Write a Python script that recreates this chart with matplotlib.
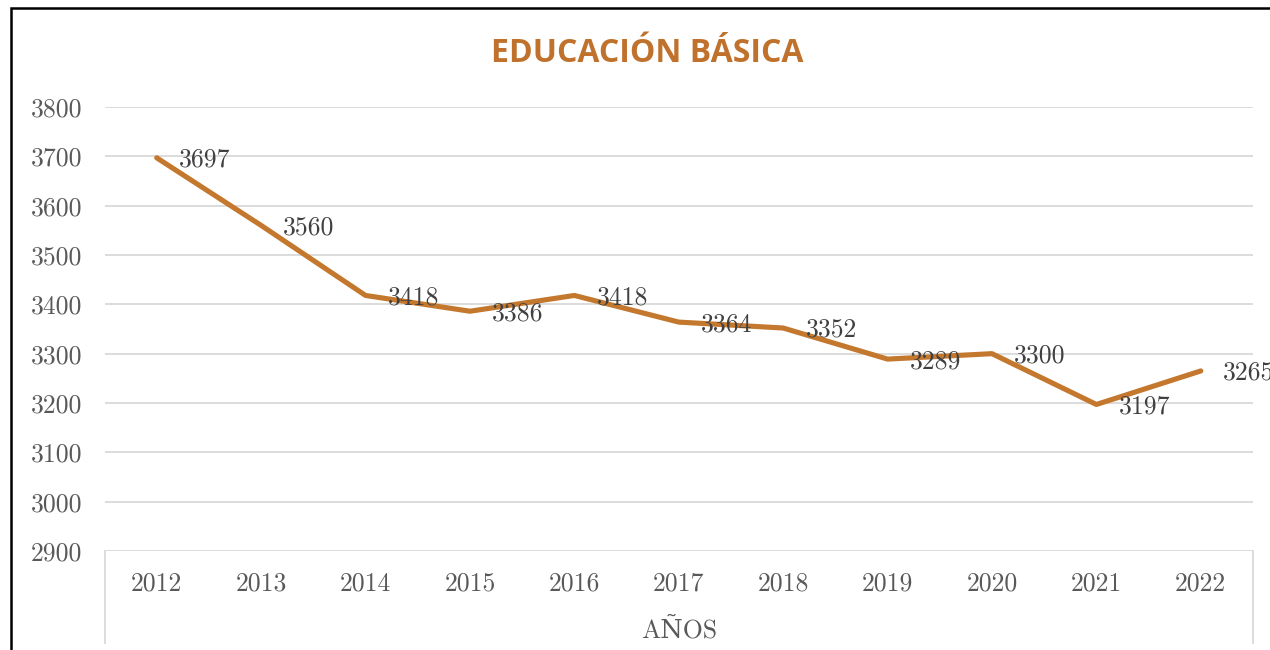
import matplotlib
matplotlib.use("Agg")
import matplotlib.pyplot as plt
from matplotlib.lines import Line2D
from matplotlib.patches import Rectangle

# ---------------------------
# Data
# ---------------------------
years = ["2012", "2013", "2014", "2015", "2016", "2017",
         "2018", "2019", "2020", "2021", "2022"]
values = [3697, 3560, 3418, 3386, 3418, 3364, 3352, 3289, 3300, 3197, 3265]
y_ticks = [2900, 3000, 3100, 3200, 3300, 3400, 3500, 3600, 3700, 3800]

title = "EDUCACIÓN BÁSICA"
x_title = "AÑOS"

line_color = "#C4782E"
title_color = "#C0722C"
grid_color = "#D9D9D9"
serif = ["cmr10", "DejaVu Serif"]
fs = 18.5

# ---------------------------
# Figure
# ---------------------------
W, H = 1270, 650
fig = plt.figure(figsize=(W / 100, H / 100), dpi=100)
ax = fig.add_axes([104.5 / W, 1 - 551 / H, (1253 - 104.5) / W, 444 / H])

x = list(range(len(years)))
ax.plot(x, values, color=line_color, lw=3.7, solid_capstyle="round",
        solid_joinstyle="round", zorder=3)

for xi, v in zip(x, values):
    ax.annotate(str(v), (xi, v), xytext=(16, -1.5), textcoords="offset points",
                ha="left", va="center", fontsize=fs, color="#404040",
                family=serif, annotation_clip=False, zorder=4)

ax.set_xlim(-0.5, len(years) - 0.5)
ax.set_ylim(2900, 3800)
ax.set_yticks(y_ticks)
ax.set_yticklabels([str(t) for t in y_ticks], family=serif, fontsize=fs,
                   color="#595959")
ax.set_xticks(x)
ax.set_xticklabels(years, family=serif, fontsize=fs, color="#595959")
ax.tick_params(axis="both", length=0)
ax.tick_params(axis="y", pad=16)
ax.tick_params(axis="x", pad=15)

ax.grid(axis="y", color=grid_color, lw=1.3)
ax.set_axisbelow(True)
for s in ax.spines.values():
    s.set_visible(False)

# category box below the plot
for xb in (0, 1):
    ax.add_line(Line2D([xb, xb], [0, -0.207], transform=ax.transAxes,
                       color=grid_color, lw=1.3, clip_on=False))

ax.text(0.5, -0.178, x_title, transform=ax.transAxes, ha="center", va="center",
        fontsize=fs, color="#595959", family=serif)

fig.text(647 / W, 1 - 53 / H, title, ha="center", va="center",
         fontsize=23, fontweight="bold", color=title_color, family="Open Sans")

# chart frame (partially visible)
fig.patches.append(Rectangle((11 / W, -0.2), 1.5, 1 - 8 / H + 0.2,
                             transform=fig.transFigure, fill=False,
                             edgecolor="black", lw=1.8))

fig.savefig("out.png", dpi=100, facecolor="white")
